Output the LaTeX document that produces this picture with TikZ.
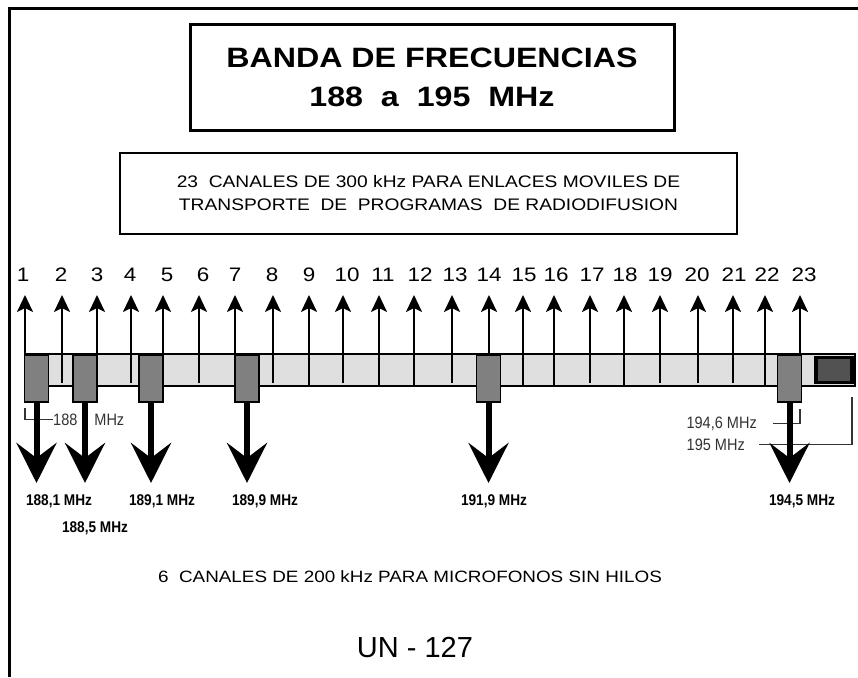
\documentclass[tikz,border=0pt]{standalone}
\usepackage{fontspec}
\setmainfont{Liberation Sans}
\newfontfamily\widesans[FakeStretch=1.15]{Liberation Sans}
\newfontfamily\narrowsans[FakeStretch=0.88]{Liberation Sans}
\usetikzlibrary{arrows.meta,positioning}

\begin{document}
\begin{tikzpicture}[x=1pt,y=-1pt,line cap=butt,line join=miter,
    numlbl/.style={font=\widesans\fontsize{19.5}{19.5}\selectfont,inner sep=0pt},
    freqlbl/.style={font=\narrowsans\bfseries\fontsize{15.5}{15.5}\selectfont,inner sep=0pt,anchor=base},
    edgelbl/.style={font=\narrowsans\fontsize{16.5}{16.5}\selectfont,text=black!80,inner sep=0pt},
    chanbox/.style={draw,line width=1.5pt,fill=gray,minimum width=24pt,minimum height=47pt,inner sep=0pt},
    uparrow/.style={line width=2.6pt,-{Stealth[length=17pt,width=16pt,inset=4pt]}},
    downarrow/.style={line width=6pt,-{Stealth[length=40pt,width=40pt,inset=15pt]}},
    leader/.style={line width=1.2pt,black!80}]
  \useasboundingbox (0,0) rectangle (858,677);
  % frame
  \draw[line width=3pt] (9,677) -- (9,9) -- (858,9);
  % headings
  \node[draw,line width=3pt,minimum width=484pt,minimum height=105pt,inner sep=0pt,align=center,
        font=\widesans\bfseries\fontsize{28}{39}\selectfont] (title) at (432,77.5)
        {BANDA DE FRECUENCIAS\\188\ \ a\ \ 195\ \ MHz};
  \node[draw,line width=2pt,minimum width=617pt,minimum height=81pt,inner sep=0pt,align=center,
        font=\widesans\fontsize{16.7}{23}\selectfont] (subtitle) at (428.5,193.5)
        {23\ \ CANALES DE 300 kHz PARA ENLACES MOVILES DE\\TRANSPORTE\ \ DE\ \ PROGRAMAS\ \ DE RADIODIFUSION};
  % band
  \node[draw,line width=2.5pt,fill=gray!25,minimum width=830pt,minimum height=32pt,inner sep=0pt] (bar) at (440,370) {};
  % 300 kHz channels
  \foreach \i/\x/\lx/\e in {1/25/23/354,2/62/61/383,3/97/97/354,4/131/130/383,5/163/167/354,
      6/199/203/383,7/235/235/354,8/273/272/383,9/309/309/385,10/343/347/383,11/379/383/385,
      12/414/420/385,13/452/455/383,14/489/489/354,15/523/524/385,16/554/556/385,17/590/592/383,
      18/624/625/385,19/660/660/383,20/698/697/383,21/733/734/383,22/765/767/385,23/800/804/356}{
    \node[numlbl] (n\i) at (\lx,275) {\i};
    \coordinate (u\i) at (\x,\e);
    \coordinate (t\i) at (\x,295);
    \draw[uparrow] (u\i) -- (t\i);
  }
  % 200 kHz channels
  \foreach \j/\x/\lx/\ly/\f in {1/36.5/59/505/{188,1 MHz},2/85/95/532/{188,5 MHz},3/151/162/505/{189,1 MHz},
      4/247/265/505/{189,9 MHz},5/488.5/494/505/{191,9 MHz},6/789.5/802/505/{194,5 MHz}}{
    \node[chanbox] (b\j) at (\x,378.5) {};
    \coordinate (d\j) at (\x,483);
    \node[freqlbl] (f\j) at (\lx,\ly) {\f};
  }
  \node[draw,line width=3.5pt,fill=black!68,minimum width=36pt,minimum height=25pt,inner sep=0pt] (bandend) at (834,370) {};
  % band edges
  \node[edgelbl,anchor=base west] (l188) at (53,425) {188\hspace{17pt}MHz};
  \coordinate (f188) at (25,408);
  \draw[leader] (f188) |- (l188.west);
  \node[edgelbl,anchor=base east] (l1946) at (757,428) {194,6 MHz};
  \coordinate (f1946) at (800,409);
  \draw[leader] ([xshift=16pt]l1946.east) -| (f1946);
  \node[edgelbl,anchor=base east] (l195) at (745,450) {195 MHz};
  \coordinate (f195) at (852,397);
  \draw[leader] ([xshift=14pt]l195.east) -| (f195);
  \foreach \j in {1,...,6}
    \draw[downarrow] (b\j.south) -- (d\j);
  % notes
  \node[font=\widesans\fontsize{16.4}{16.4}\selectfont,inner sep=0pt] (micro) at (410,576.5)
       {6\ \ CANALES DE 200 kHz PARA MICROFONOS SIN HILOS};
  \node[font=\fontsize{29}{29}\selectfont,inner sep=0pt,anchor=base] (code) at (415,657) {UN - 127};
\end{tikzpicture}
\end{document}
